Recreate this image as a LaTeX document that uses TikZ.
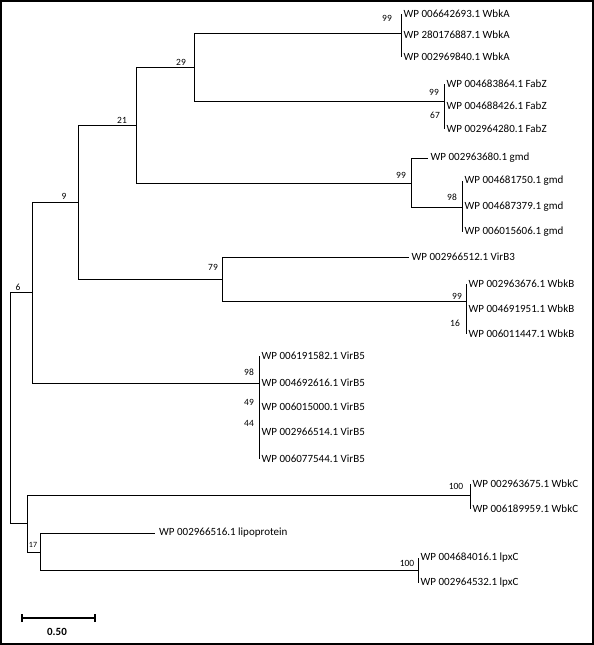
\documentclass[tikz,border=0pt]{standalone}
\usepackage{fontspec}
\setmainfont{Carlito}
\usepackage{tikz}
\tikzset{
  branch/.style={draw=black, line width=0.9pt},
  leaf/.style={anchor=west, inner sep=2.5pt, font=\fontsize{11}{13}\selectfont},
  boot/.style={inner sep=0pt, font=\fontsize{9.5}{11}\selectfont},
}

\begin{document}
\begin{tikzpicture}[x=1pt,y=-1pt]
          \useasboundingbox (0,0) rectangle (594,645);
          \draw[line width=1.6pt] (1,1) rectangle (593,644);
          \coordinate (root) at (10,407);
          \coordinate (n6) at (32,292);
          \coordinate (n9) at (78,202);
          \coordinate (n21) at (136,125);
          \coordinate (n29) at (194,67);
          \coordinate (wbkA) at (401,33);
          \coordinate (fabZ) at (444,101);
          \coordinate (gmd) at (411,183);
          \coordinate (gmdB) at (462,207);
          \coordinate (n79) at (222,279);
          \coordinate (wbkB) at (466,301);
          \coordinate (virB5) at (259,383);
          \coordinate (nX) at (27,523);
          \coordinate (wbkC) at (470,495);
          \coordinate (n17) at (40,552);
          \coordinate (lpxC) at (418,570);
          \node[leaf] (wbkA1) at (401,14) {WP 006642693.1 WbkA};
          \node[leaf] (wbkA2) at (401,35) {WP 280176887.1 WbkA};
          \node[leaf] (wbkA3) at (401,57) {WP 002969840.1 WbkA};
          \node[leaf] (fabZ1) at (444,84) {WP 004683864.1 FabZ};
          \node[leaf] (fabZ2) at (444,106) {WP 004688426.1 FabZ};
          \node[leaf] (fabZ3) at (444,129) {WP 002964280.1 FabZ};
          \node[leaf] (gmd1) at (428,158) {WP 002963680.1 gmd};
          \node[leaf] (gmd2) at (462,181) {WP 004681750.1 gmd};
          \node[leaf] (gmd3) at (462,207) {WP 004687379.1 gmd};
          \node[leaf] (gmd4) at (462,232) {WP 006015606.1 gmd};
          \node[leaf] (virB3) at (409,257) {WP 002966512.1 VirB3};
          \node[leaf] (wbkB1) at (466,284) {WP 002963676.1 WbkB};
          \node[leaf] (wbkB2) at (466,309) {WP 004691951.1 WbkB};
          \node[leaf] (wbkB3) at (466,334) {WP 006011447.1 WbkB};
          \node[leaf] (virB5a) at (259,356) {WP 006191582.1 VirB5};
          \node[leaf] (virB5b) at (259,383) {WP 004692616.1 VirB5};
          \node[leaf] (virB5c) at (259,407) {WP 006015000.1 VirB5};
          \node[leaf] (virB5d) at (259,432) {WP 002966514.1 VirB5};
          \node[leaf] (virB5e) at (259,459) {WP 006077544.1 VirB5};
          \node[leaf] (wbkC1) at (470,484) {WP 002963675.1 WbkC};
          \node[leaf] (wbkC2) at (470,509) {WP 006189959.1 WbkC};
          \node[leaf, inner sep=4pt] (lipo) at (155,533) {WP 002966516.1 lipoprotein};
          \node[leaf] (lpxC1) at (418,558) {WP 004684016.1 lpxC};
          \node[leaf] (lpxC2) at (418,583) {WP 002964532.1 lpxC};
          \draw[branch] (root) |- (n6) (root) |- (nX)
            (n6) |- (n9) (n6) |- (virB5)
            (n9) |- (n21) (n9) |- (n79)
            (n21) |- (n29) (n21) |- (gmd)
            (n29) |- (wbkA) (n29) |- (fabZ)
            (wbkA) |- (wbkA1.west) (wbkA) |- (wbkA3.west)
            (fabZ) |- (fabZ1.west) (fabZ) |- (fabZ3.west)
            (gmd) |- (gmd1.west) (gmd) |- (gmdB)
            (gmdB) |- (gmd2.west) (gmdB) |- (gmd4.west)
            (n79) |- (virB3.west) (n79) |- (wbkB)
            (wbkB) |- (wbkB1.west) (wbkB) |- (wbkB3.west)
            (virB5) |- (virB5a.west) (virB5) |- (virB5e.west)
            (nX) |- (wbkC) (nX) |- (n17)
            (wbkC) |- (wbkC1.west) (wbkC) |- (wbkC2.west)
            (n17) |- (lipo.west) (n17) |- (lpxC)
            (lpxC) |- (lpxC1.west) (lpxC) |- (lpxC2.west);
          \node[boot] (bWbkA) at (387,18) {99};
          \node[boot] (b29) at (181,62) {29};
          \node[boot] (bFabZ) at (434,92) {99};
          \node[boot] (bFabZ2) at (435,115) {67};
          \node[boot] (b21) at (122,120) {21};
          \node[boot] (bGmd) at (401,175) {99};
          \node[boot] (bGmd2) at (452,197) {98};
          \node[boot] (b9) at (64,196) {9};
          \node[boot] (b79) at (213,267) {79};
          \node[boot] (bWbkB) at (457,296) {99};
          \node[boot] (bWbkB2) at (455,323) {16};
          \node[boot] (b6) at (18,287) {6};
          \node[boot] (bVirB5) at (249,372) {98};
          \node[boot] (bVirB5b) at (249,402) {49};
          \node[boot] (bVirB5c) at (249,423) {44};
          \node[boot] (bWbkC) at (456,486) {100};
          \node[boot, font=\fontsize{8}{9}\selectfont] (b17) at (33,545) {17};
          \node[boot] (bLpxC) at (407,563) {100};
          \coordinate (barL) at (22,618);
          \coordinate (barR) at (95,618);
          \draw[line width=2pt] (barL) -- (barR);
          \draw[line width=2pt] ([yshift=-4pt]barL) -- ([yshift=4pt]barL);
          \draw[line width=2pt] ([yshift=-4pt]barR) -- ([yshift=4pt]barR);
          \node[font=\bfseries\fontsize{11}{13}\selectfont] (barLabel) at (57,632) {0.50};
        \end{tikzpicture}
\end{document}
